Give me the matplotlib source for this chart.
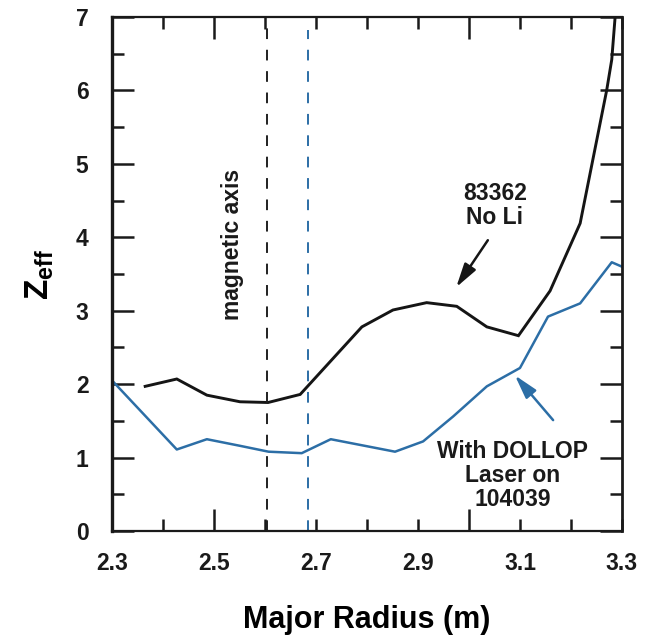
import matplotlib
matplotlib.use("Agg")
import matplotlib.pyplot as plt

# Zeff profiles vs major radius
r_no_li = [2.365, 2.427, 2.486, 2.551, 2.606, 2.669, 2.79, 2.851, 2.917, 2.976,
           3.035, 3.097, 3.159, 3.218, 3.27, 3.28, 3.29]
z_no_li = [1.97, 2.07, 1.85, 1.76, 1.75, 1.86, 2.78, 3.01, 3.11, 3.06,
           2.78, 2.66, 3.27, 4.19, 6.0, 6.42, 7.3]

r_dollop = [2.30, 2.427, 2.486, 2.551, 2.607, 2.672, 2.729, 2.855, 2.91, 2.969,
            3.035, 3.10, 3.155, 3.218, 3.28, 3.30]
z_dollop = [2.05, 1.11, 1.25, 1.16, 1.08, 1.06, 1.25, 1.08, 1.22, 1.56,
            1.97, 2.22, 2.92, 3.10, 3.66, 3.60]

magnetic_axis_r = 2.604
dollop_axis_r = 2.684

xtick_vals = [2.3, 2.5, 2.7, 2.9, 3.1, 3.3]
xtick_labels = ["2.3", "2.5", "2.7", "2.9", "3.1", "3.3"]
xminor_vals = [2.4, 2.6, 2.8, 3.0, 3.2]
ytick_vals = [0, 1, 2, 3, 4, 5, 6, 7]
yminor_vals = [0.5, 1.5, 2.5, 3.5, 4.5, 5.5, 6.5]

BLUE = "#2c6ea6"
plt.rcParams["font.family"] = ["Liberation Sans", "DejaVu Sans"]
plt.rcParams["font.weight"] = "bold"
plt.rcParams["mathtext.fontset"] = "custom"
plt.rcParams["mathtext.rm"] = "Liberation Sans:bold"
plt.rcParams["mathtext.bf"] = "Liberation Sans:bold"
plt.rcParams["mathtext.it"] = "Liberation Sans:bold"

fig = plt.figure(figsize=(6.54, 6.42), dpi=100)
ax = fig.add_axes([0.1713, 0.1729, 0.7797, 0.8006])

ax.plot(r_no_li, z_no_li, color="#151515", lw=2.1, solid_joinstyle="miter")
ax.plot(r_dollop, z_dollop, color=BLUE, lw=1.8)

ax.vlines(magnetic_axis_r, 0, 6.85, colors="#202020", lw=1.4, linestyles=(0, (5.5, 5.5)))
ax.vlines(dollop_axis_r, 0, 6.82, colors=BLUE, lw=1.4, linestyles=(0, (5.5, 5.5)))

ax.set_xlim(2.3, 3.3)
ax.set_ylim(0, 7)

ax.set_xticks(xtick_vals)
ax.set_xticklabels(xtick_labels)
ax.set_xticks(xminor_vals, minor=True)
ax.set_yticks(ytick_vals)
ax.set_yticks(yminor_vals, minor=True)

ax.tick_params(which="both", direction="in", top=True, right=True, width=1.8,
               colors="#1a1a1a", labelsize=16.5)
ax.tick_params(axis="y", which="major", length=15.5, pad=17)
ax.tick_params(axis="y", which="minor", length=8.5)
ax.tick_params(axis="x", which="major", length=8.5, pad=15)
ax.tick_params(axis="x", which="minor", length=8.5)
for lab in ax.get_xticklabels() + ax.get_yticklabels():
    lab.set_fontweight("bold")

# longer ticks at 2.5 and 3.0 on the radius axis
ax.xaxis.get_major_ticks()[1].tick1line.set_markersize(15.5)
ax.xaxis.get_major_ticks()[1].tick2line.set_markersize(15.5)
ax.xaxis.get_minor_ticks()[3].tick1line.set_markersize(15.5)
ax.xaxis.get_minor_ticks()[3].tick2line.set_markersize(15.5)

for side, lw in [("left", 2.4), ("bottom", 1.6), ("top", 1.6), ("right", 2.0)]:
    ax.spines[side].set_linewidth(lw)
    ax.spines[side].set_color("#1a1a1a")

ax.set_xlabel("Major Radius (m)", fontsize=22, fontweight="bold", labelpad=22)
ax.set_ylabel(r"$\mathbf{Z_{eff}}$", fontsize=24, labelpad=14)

ax.text(2.537, 3.9, "magnetic axis", rotation=90, ha="center", va="center",
        fontsize=16.5, fontweight="bold", color="#1a1a1a")

ax.annotate("", xy=(2.975, 3.32), xytext=(3.037, 3.96),
            arrowprops=dict(arrowstyle="-|>,head_length=0.9,head_width=0.25",
                            color="#151515", lw=1.8, shrinkA=0, shrinkB=0,
                            mutation_scale=16))
ax.text(3.051, 4.43, "83362\nNo Li", ha="center", va="center", fontsize=16.5,
        fontweight="bold", color="#1a1a1a", linespacing=1.05)

ax.annotate("", xy=(3.09, 2.12), xytext=(3.165, 1.51),
            arrowprops=dict(arrowstyle="-|>,head_length=0.9,head_width=0.25",
                            color=BLUE, lw=1.8, shrinkA=0, shrinkB=0,
                            mutation_scale=16))
ax.text(3.086, 0.76, "With DOLLOP\nLaser on\n104039", ha="center", va="center",
        fontsize=16.5, fontweight="bold", color="#1a1a1a", linespacing=1.05)

fig.savefig("out.png", dpi=100)
